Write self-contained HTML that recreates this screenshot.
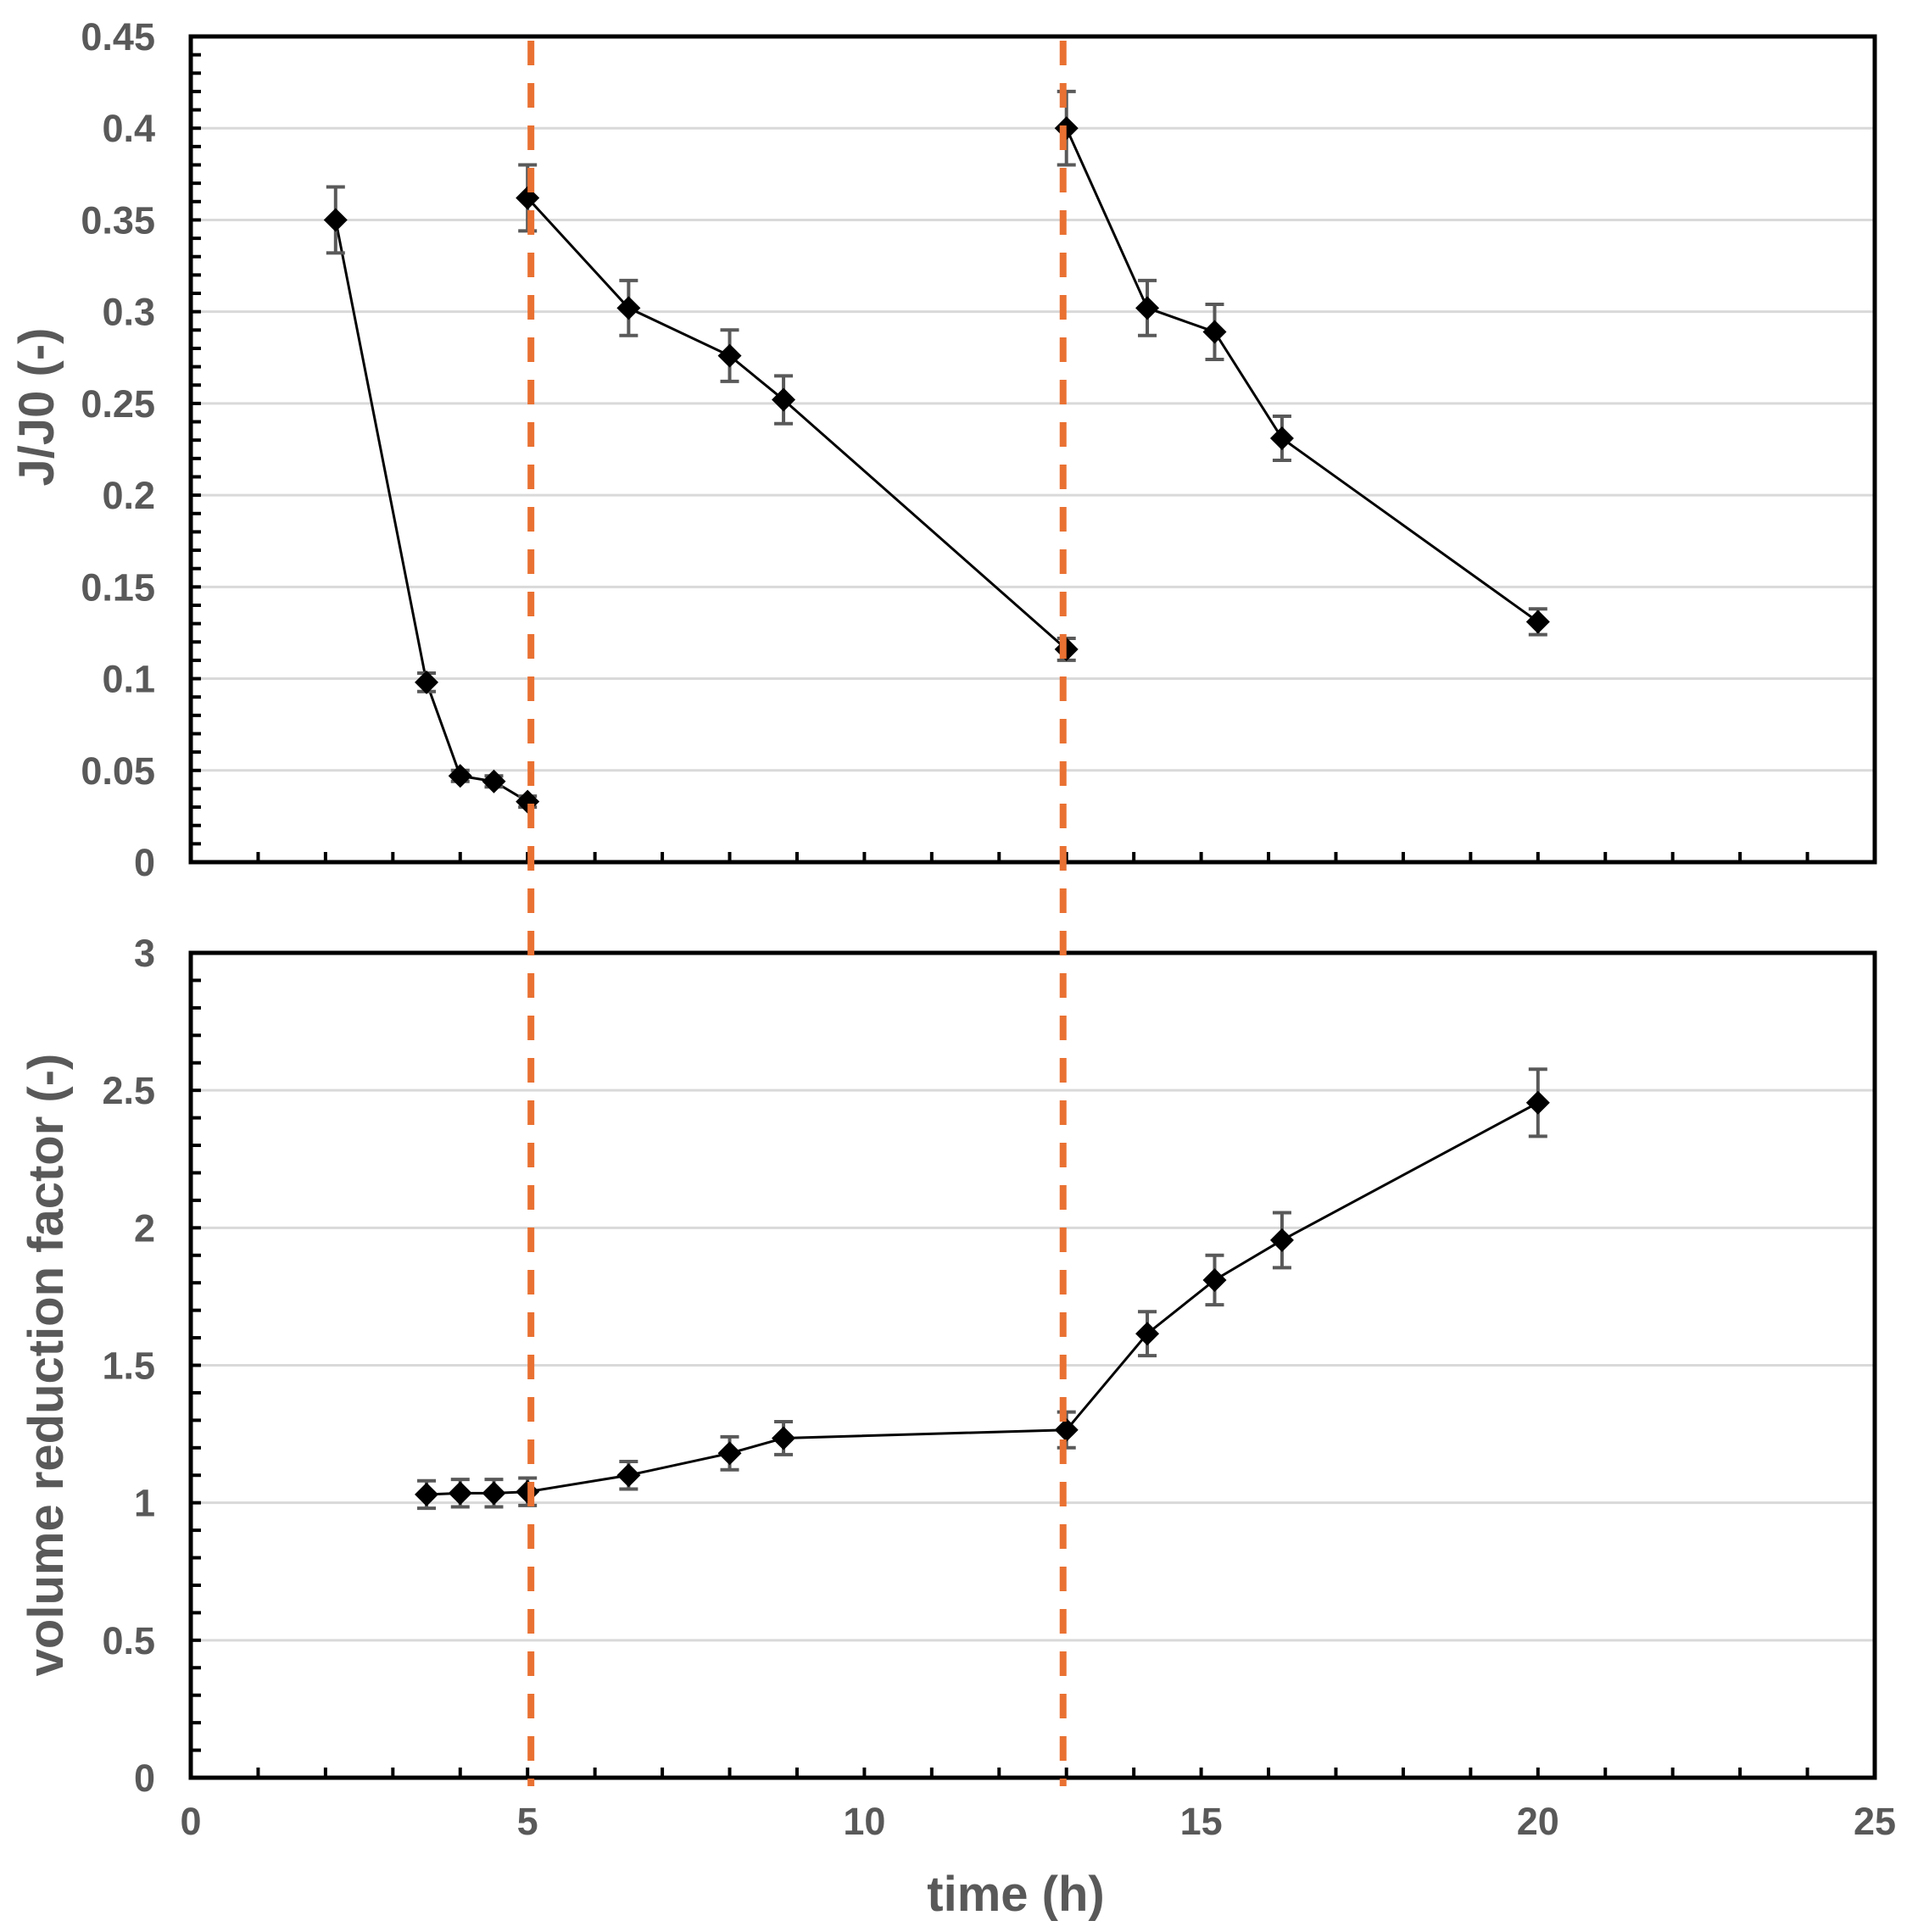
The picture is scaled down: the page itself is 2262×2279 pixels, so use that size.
<!DOCTYPE html>
<html><head><meta charset="utf-8"><style>
html,body{margin:0;padding:0;background:#fff;}
svg{display:block;font-family:"Liberation Sans",Arial,sans-serif;}
</style></head><body>
<svg id="chart" width="2262" height="2279" viewBox="0 0 2262 2279" xmlns="http://www.w3.org/2000/svg"></svg>
<script>
const xTicks = [0,5,10,15,20,25];
const topYTicks = [0,0.05,0.1,0.15,0.2,0.25,0.3,0.35,0.4,0.45];
const topYLabels = ["0","0.05","0.1","0.15","0.2","0.25","0.3","0.35","0.4","0.45"];
const botYTicks = [0,0.5,1,1.5,2,2.5,3];
const botYLabels = ["0","0.5","1","1.5","2","2.5","3"];
const vLines = [5.05,12.95];
const s1x = [2.15,3.5,4,4.5,5];
const s1y = [0.35,0.098,0.047,0.044,0.033];
const s1e = [0.018,0.005,0.003,0.003,0.003];
const s2x = [5,6.5,8,8.8,13];
const s2y = [0.362,0.302,0.276,0.252,0.116];
const s2e = [0.018,0.015,0.014,0.013,0.006];
const s3x = [13,14.2,15.2,16.2,20];
const s3y = [0.400,0.302,0.289,0.231,0.131];
const s3e = [0.02,0.015,0.015,0.012,0.007];
const vx = [3.5,4,4.5,5,6.5,8,8.8,13,14.2,15.2,16.2,20];
const vy = [1.03,1.035,1.035,1.04,1.10,1.18,1.235,1.265,1.615,1.81,1.955,2.455];
const ve = [0.05,0.05,0.05,0.05,0.05,0.06,0.06,0.065,0.08,0.09,0.1,0.122];

const NS="http://www.w3.org/2000/svg";
const svg=document.getElementById('chart');
const L=225,R=2211;
const T1=43,B1=1017,T2=1124,B2=2097;
const xs=v=>L+(v/25)*(R-L);
const y1=v=>B1-(v/0.45)*(B1-T1);
const y2=v=>B2-(v/3)*(B2-T2);
function mk(tag,a,parent){const e=document.createElementNS(NS,tag);for(const k in a)e.setAttribute(k,a[k]);(parent||svg).appendChild(e);return e;}

function panel(name,T,B,ys,yt,yl,minorStep,maxV){
  const g=mk('g',{});
  
  
  yt.forEach((v,i)=>{ if(v>0 && v<maxV-1e-9){
    const l=mk('line',{x1:L,x2:R,y1:ys(v),y2:ys(v),stroke:'#d9d9d9','stroke-width':3},g);
    
    
  }});
  for(let v=0;v<=maxV+1e-9;v+=minorStep){
    const t=mk('line',{x1:L,x2:L+12,y1:ys(v),y2:ys(v),stroke:'#000','stroke-width':4},g);
    
    
  }
  for(let v=1;v<25;v++){
    const t=mk('line',{x1:xs(v),x2:xs(v),y1:B,y2:B-12,stroke:'#000','stroke-width':4},g);
    
    
  }
  const fr=mk('rect',{x:L,y:T,width:R-L,height:B-T,fill:'none',stroke:'#000','stroke-width':5},g);
  
  
  yt.forEach((v,i)=>{
    const t=mk('text',{x:183,y:ys(v)+16,'text-anchor':'end','font-size':45,'font-weight':'bold',fill:'#595959'},g);
    t.textContent=yl[i];
    
    
  });
}
panel('flux',T1,B1,y1,topYTicks,topYLabels,0.01,0.45);
panel('vrf',T2,B2,y2,botYTicks,botYLabels,0.1,3);

xTicks.forEach(v=>{
  const t=mk('text',{x:xs(v),y:2164,'text-anchor':'middle','font-size':45,'font-weight':'bold',fill:'#595959'});
  t.textContent=String(v);
  
  
});

function series(name,X,Y,E,ys){
  const g=mk('g',{});
  
  
  const pts=X.map((x,i)=>xs(x)+','+ys(Y[i])).join(' ');
  const pl=mk('polyline',{points:pts,fill:'none',stroke:'#000','stroke-width':3},g);
  
  
  X.forEach((x,i)=>{
    const cx=xs(x),yt=ys(Y[i]+E[i]),yb=ys(Y[i]-E[i]);
    const eb=mk('path',{d:`M${cx},${yt}V${yb}M${cx-11},${yt}H${cx+11}M${cx-11},${yb}H${cx+11}`,stroke:'#595959','stroke-width':4,fill:'none'},g);
    
    
  });
  X.forEach((x,i)=>{
    const cx=xs(x),cy=ys(Y[i]),r=14;
    const m=mk('path',{d:`M${cx},${cy-r}L${cx+r},${cy}L${cx},${cy+r}L${cx-r},${cy}Z`,fill:'#000'},g);
    
    
  });
}
series('flux-series-1',s1x,s1y,s1e,y1);
series('flux-series-2',s2x,s2y,s2e,y1);
series('flux-series-3',s3x,s3y,s3e,y1);
series('vrf-series',vx,vy,ve,y2);

vLines.forEach(v=>{
  const l=mk('line',{x1:xs(v),x2:xs(v),y1:T1+5,y2:2107,stroke:'#E97132','stroke-width':8,'stroke-dasharray':'29 21'});
  
  
});

const xt=mk('text',{x:1198,y:2254,'text-anchor':'middle','font-size':58,'font-weight':'bold',fill:'#595959'});
xt.textContent='time (h)';


const yt1=mk('text',{x:0,y:0,'text-anchor':'middle','font-size':58,'font-weight':'bold',fill:'#595959',transform:'translate(63,480) rotate(-90)'});
yt1.textContent='J/J0 (-)';


const yt2=mk('text',{x:0,y:0,'text-anchor':'middle','font-size':58,'font-weight':'bold',fill:'#595959',transform:'translate(74,1610) rotate(-90)'});
yt2.textContent='volume reduction factor (-)';


</script>
</body></html>
